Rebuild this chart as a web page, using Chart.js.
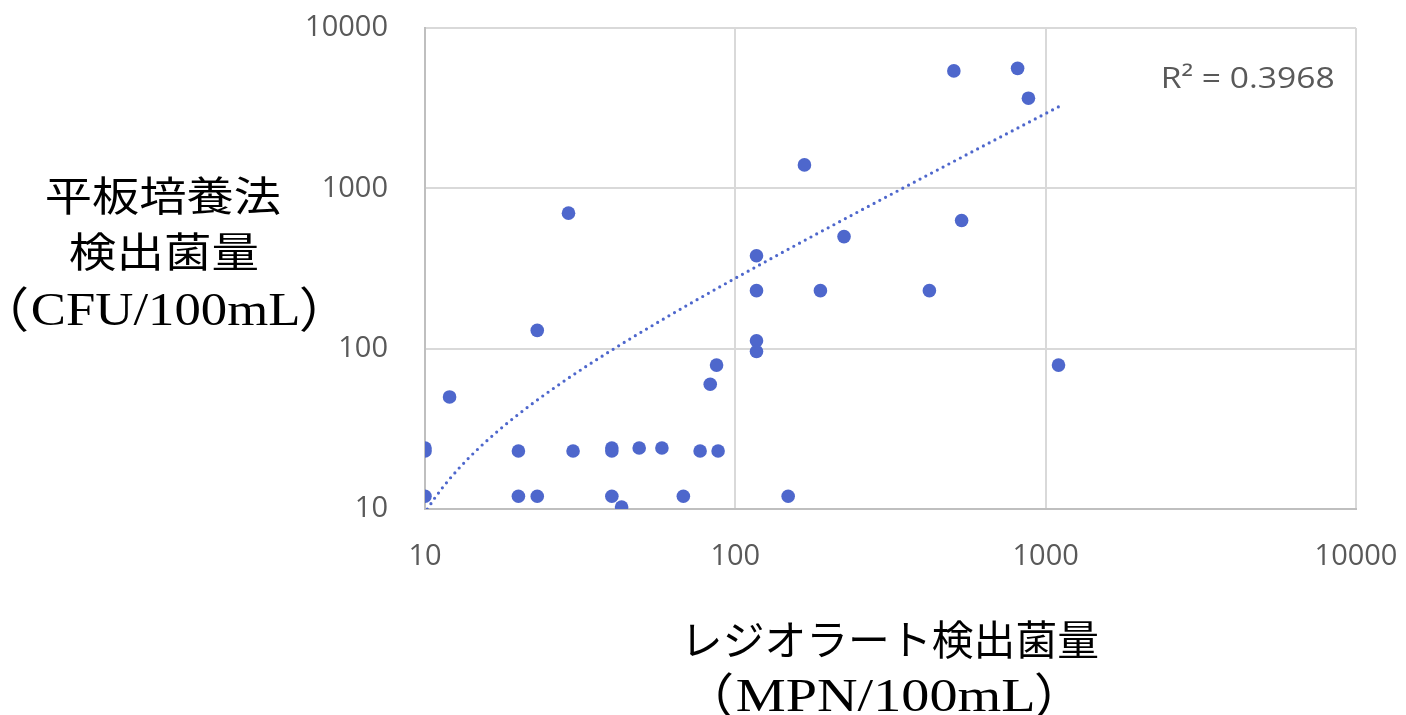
<!DOCTYPE html>
<html lang="ja">
<head>
<meta charset="utf-8">
<title>レジオラート検出菌量と平板培養法検出菌量</title>
<script src="https://cdn.jsdelivr.net/npm/chart.js@4.4.1/dist/chart.umd.min.js"></script>
<style>
    html, body { margin: 0; padding: 0; background: #fff; }
    #wrap { position: relative; width: 1406px; height: 715px; }
</style>
</head>
<body>
<div id="wrap"><canvas id="scatterChart"></canvas></div>
<script>
// Legionella counts per sample: Legiolert MPN vs plate culture CFU
const mpnValues = [12, 10, 10, 10, 20, 30, 40, 40, 49, 58, 77, 88, 20, 23, 40, 43, 68, 148,
                   83, 87, 23, 29, 117, 117, 117, 117, 167, 188, 224, 422, 536, 506, 812, 880, 1100];
const cfuValues = [50, 24, 23, 12, 23, 23, 24, 23, 24, 24, 23, 23, 12, 12, 12, 10.3, 12, 12,
                   60, 79, 130, 700, 380, 230, 112, 96, 1400, 230, 500, 230, 630, 5400, 5600, 3650, 79];
const axisTicks = [10, 100, 1000, 10000];

// linear trendline (y = a x + b), shown on log axes
const trendSlope = 2.95;
const trendIntercept = -20;
const rSquaredLabel = 'R² = 0.3968';

const markerColor = '#4E67CC';

const scatterPoints = mpnValues.map((x, i) => ({ x: x, y: cfuValues[i] }));

function buildTrend() {
    const xMax = Math.max(...mpnValues);
    const xStart = (10 - trendIntercept) / trendSlope;
    const pts = [];
    const steps = 80;
    for (let i = 0; i <= steps; i++) {
        const x = xStart * Math.pow(xMax / xStart, i / steps);
        pts.push({ x: x, y: trendSlope * x + trendIntercept });
    }
    return pts;
}

// draws a text so that its ink spans [left, right], centred on centerY
function drawFitted(ctx, text, font, left, right, centerY, color) {
    ctx.save();
    ctx.font = font;
    ctx.textAlign = 'left';
    ctx.textBaseline = 'alphabetic';
    const m = ctx.measureText(text);
    const inkW = m.actualBoundingBoxLeft + m.actualBoundingBoxRight;
    const sx = (right - left) / inkW;
    const baseline = centerY + (m.actualBoundingBoxAscent - m.actualBoundingBoxDescent) / 2;
    ctx.translate(left, baseline);
    ctx.scale(sx, 1);
    ctx.fillStyle = color || '#000';
    ctx.fillText(text, m.actualBoundingBoxLeft, 0);
    ctx.restore();
}

// unit line like （CFU/100mL）: parentheses and inner text placed separately
function drawUnit(ctx, inner, left, innerLeft, innerRight, right, centerY) {
    const paren = '48px "Noto Sans CJK JP"';
    const serif = '46px "Liberation Serif", serif';
    drawFitted(ctx, '（', paren, left, left + 14, centerY);
    drawFitted(ctx, inner, serif, innerLeft, innerRight, centerY);
    drawFitted(ctx, '）', paren, right - 14, right, centerY);
}

const titlesPlugin = {
    id: 'axisTitles',
    afterDraw(chart) {
        const ctx = chart.ctx;
        const jp = '41px "Noto Sans CJK JP"';

        drawFitted(ctx, '平板培養法', jp, 47, 280, 195);
        drawFitted(ctx, '検出菌量', jp, 70, 258, 252);
        drawUnit(ctx, 'CFU/100mL', 13, 32, 298, 315, 309);

        drawFitted(ctx, 'レジオラート検出菌量', jp, 690, 1098, 640);
        drawUnit(ctx, 'MPN/100mL', 718, 737, 1033, 1050, 695);

        drawFitted(ctx, rSquaredLabel, '29px "Open Sans"', 1163, 1334, 75, '#595959');
    }
};

const tickFont = { family: '"Open Sans"', size: 29 };

new Chart(document.getElementById('scatterChart'), {
    type: 'scatter',
    data: {
        datasets: [{
            data: scatterPoints,
            backgroundColor: markerColor,
            borderColor: markerColor,
            pointRadius: 6.8,
            pointBorderWidth: 0,
            order: 2
        },
        {
            data: buildTrend(),
            showLine: true,
            pointRadius: 0,
            borderColor: markerColor,
            borderWidth: 3.2,
            borderDash: [0, 6.5],
            borderCapStyle: 'round',
            fill: false,
            order: 1
        }]
    },
    options: {
        responsive: true,
        maintainAspectRatio: false,
        animation: false,
        layout: {
            padding: { left: 0, top: 28, right: 50, bottom: 0 }
        },
        plugins: {
            legend: { display: false },
            tooltip: { enabled: false }
        },
        scales: {
            x: {
                type: 'logarithmic',
                min: 10,
                max: 10000,
                afterBuildTicks: scale => { scale.ticks = axisTicks.map(v => ({ value: v })); },
                afterFit: scale => {
                    scale.height = 206;
                    scale.paddingLeft = 0;
                    scale.paddingRight = 0;
                },
                grid: { color: '#D9D9D9', lineWidth: 2, drawTicks: false },
                border: { color: '#BFBFBF', width: 2 },
                ticks: {
                    font: tickFont,
                    color: '#595959',
                    padding: 30,
                    maxRotation: 0,
                    autoSkip: false,
                    callback: value => String(value)
                }
            },
            y: {
                type: 'logarithmic',
                min: 10,
                max: 10000,
                afterBuildTicks: scale => { scale.ticks = axisTicks.map(v => ({ value: v })); },
                afterFit: scale => {
                    scale.width = 425;
                    scale.paddingTop = 0;
                    scale.paddingBottom = 0;
                },
                grid: { color: '#D9D9D9', lineWidth: 2, drawTicks: false },
                border: { color: '#BFBFBF', width: 2 },
                ticks: {
                    font: tickFont,
                    color: '#595959',
                    padding: 37,
                    autoSkip: false,
                    callback: value => String(value)
                }
            }
        }
    },
    plugins: [titlesPlugin]
});
</script>
</body>
</html>
